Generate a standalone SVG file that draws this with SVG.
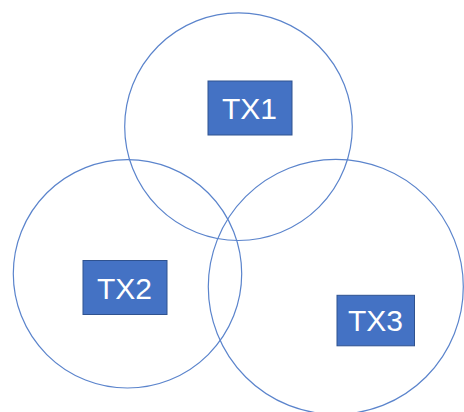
<svg xmlns="http://www.w3.org/2000/svg" width="464" height="412" viewBox="0 0 464 412">
<style>
.ring{fill:none;stroke:#5B84CC;stroke-width:1.2}
.box{fill:#4472C4;stroke:#2F528F;stroke-width:1}
.lbl{fill:#FFFFFF;font-family:"Liberation Sans",Arial,sans-serif;font-size:30px;text-anchor:middle}
</style>
<rect width="464" height="412" fill="#FFFFFF"/>
<g id="circles">
<circle class="ring" cx="238.5" cy="126.7" r="113.8"/>
<circle class="ring" cx="127.5" cy="273.8" r="114.2"/>
<circle class="ring" cx="335.8" cy="286.8" r="127.5"/>
</g>
<g id="tx1">
<rect class="box" x="208" y="81" width="84" height="54"/>
<text class="lbl" x="249.5" y="119.3">TX1</text>
</g>
<g id="tx2">
<rect class="box" x="83" y="260.5" width="84" height="54"/>
<text class="lbl" x="124.5" y="299.3">TX2</text>
</g>
<g id="tx3">
<rect class="box" x="337" y="295.3" width="77.5" height="50.5"/>
<text class="lbl" x="375.5" y="331">TX3</text>
</g>
<g id="connectors"></g>
</svg>
